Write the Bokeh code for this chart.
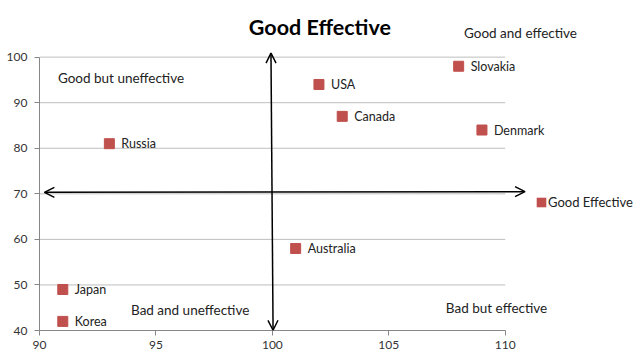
import numpy as np
from bokeh.plotting import figure
from bokeh.models import (ColumnDataSource, LabelSet, Label, Arrow, OpenHead,
                          Legend, LegendItem, FixedTicker, Range1d)
from bokeh.core.properties import value
from bokeh.embed import file_html
from bokeh.resources import INLINE

# ---- data ----
countries = ["Russia", "USA", "Canada", "Slovakia", "Denmark", "Australia", "Japan", "Korea"]
x_vals = [93, 102, 103, 108, 109, 101, 91, 91]
y_vals = [81, 94, 87, 98, 84, 58, 49, 42]
series_name = "Good Effective"
x_ticks = [90, 95, 100, 105, 110]
y_ticks = [40, 50, 60, 70, 80, 90, 100]
quadrant_texts = ["Good and effective", "Good but uneffective", "Bad and uneffective", "Bad but effective"]

FONT = "Lato"
RED = "#C0504D"
X_MIN, X_MAX = x_ticks[0], x_ticks[-1]
Y_MIN, Y_MAX = y_ticks[0], y_ticks[-1]

src = ColumnDataSource(dict(x=x_vals, y=y_vals, name=countries))

p = figure(frame_width=598, frame_height=330, output_backend="svg", toolbar_location=None,
           x_range=Range1d(X_MIN, 115.68), y_range=Range1d(Y_MIN, 112.43),
           min_border_left=39, min_border_right=0, min_border_top=0, min_border_bottom=0)
p.outline_line_color = None
p.background_fill_color = "white"
p.border_fill_color = "white"

p.xgrid.grid_line_color = None
p.ygrid.grid_line_color = None

# horizontal gridlines limited to the plotted x range
p.segment(x0=[X_MIN] * len(y_ticks), x1=[X_MAX] * len(y_ticks), y0=y_ticks, y1=y_ticks,
          line_color="#BEBEBE", line_width=1)

p.xaxis.ticker = FixedTicker(ticks=x_ticks)
p.yaxis.ticker = FixedTicker(ticks=y_ticks)
p.xaxis.bounds = (X_MIN, X_MAX)
p.yaxis.bounds = (Y_MIN, Y_MAX)
for ax in (p.xaxis, p.yaxis):
    ax.axis_line_color = "#868686"
    ax.major_tick_line_color = "#868686"
    ax.minor_tick_line_color = None
    ax.major_tick_in = 0
    ax.major_tick_out = 5
    ax.major_label_text_font = FONT
    ax.major_label_text_font_size = "12px"
    ax.major_label_text_color = "#333333"
p.xaxis.major_label_standoff = 5
p.yaxis.major_label_standoff = 7

r = p.scatter("x", "y", source=src, marker="square", size=10, color=RED)
# swatch renderer used only for the legend entry (square colour patch, draws nothing in plot)
nan1 = np.array([np.nan])
swatch = p.quad(left=nan1, right=nan1, top=nan1, bottom=nan1, fill_color=RED, line_color=None)

labels = LabelSet(x="x", y="y", text="name", source=src, x_offset=12, y_offset=0,
                  text_baseline="middle", text_font=value(FONT), text_font_size="12.5px",
                  text_color="#222222")
p.add_layout(labels)

# arrows (quadrant axes)
H_ARROW = dict(x_start=90.21, y_start=70.33, x_end=110.85, y_end=70.48)
V_ARROW = dict(x_start=100.03, y_start=40.05, x_end=99.94, y_end=100.88)
for a in (H_ARROW, V_ARROW):
    p.add_layout(Arrow(start=OpenHead(size=10, line_width=1.5, line_color="black"),
                       end=OpenHead(size=10, line_width=1.5, line_color="black"),
                       line_width=1.5, line_color="black", **a))

# title
p.add_layout(Label(x=102.04, y=106.51, text=series_name, text_align="center",
                   text_baseline="middle", text_font=FONT, text_font_size="21.5px",
                   text_font_style="bold", text_color="black"))

# quadrant labels
q_pos = [(108.23, 105.2), (90.79, 95.33), (93.93, 44.45), (107.45, 44.9)]
for txt, (qx, qy) in zip(quadrant_texts, q_pos):
    p.add_layout(Label(x=qx, y=qy, text=txt, text_baseline="middle",
                       text_font=FONT, text_font_size="13.5px", text_color="#222222"))

legend = Legend(items=[LegendItem(label=series_name, renderers=[swatch], index=0)],
                location=(496, 120), orientation="vertical",
                padding=0, margin=0, spacing=0, border_line_color=None,
                background_fill_alpha=0, glyph_width=12, glyph_height=12,
                label_standoff=1, label_height=12, label_text_font=FONT,
                label_text_font_size="13px", label_text_color="#222222")
p.add_layout(legend)

open("out.html", "w").write(file_html(p, INLINE))
